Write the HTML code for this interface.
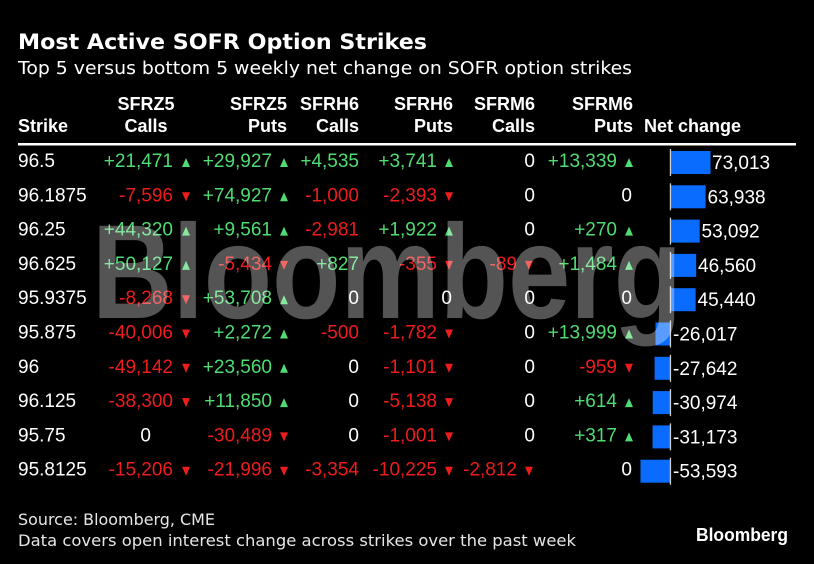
<!DOCTYPE html>
<html><head><meta charset="utf-8"><style>
html,body{margin:0;padding:0;background:#000;width:814px;height:564px;overflow:hidden}
svg{display:block}
.t{font-family:"Liberation Sans",sans-serif;font-size:19px}
.h{font-family:"Liberation Sans",sans-serif;font-size:18px;font-weight:bold;fill:#fff}
.w{fill:#fff}.g{fill:#4fdc72}.r{fill:#ee1c1c}
</style></head><body>
<svg width="814" height="564" viewBox="0 0 814 564" xmlns="http://www.w3.org/2000/svg">
<rect width="814" height="564" fill="#000"/>
<text x="18" y="49" font-family="DejaVu Sans,sans-serif" font-weight="bold" font-size="21" fill="#fff" textLength="409" lengthAdjust="spacingAndGlyphs">Most Active SOFR Option Strikes</text>
<text x="18" y="74" font-family="DejaVu Sans,sans-serif" font-size="18" fill="#fff" textLength="614" lengthAdjust="spacingAndGlyphs">Top 5 versus bottom 5 weekly net change on SOFR option strikes</text>

<g class="h">
<text x="146" y="110" text-anchor="middle">SFRZ5</text>
<text x="146" y="132" text-anchor="middle">Calls</text>
<text x="287" y="110" text-anchor="end">SFRZ5</text>
<text x="287" y="132" text-anchor="end">Puts</text>
<text x="359" y="110" text-anchor="end">SFRH6</text>
<text x="359" y="132" text-anchor="end">Calls</text>
<text x="453" y="110" text-anchor="end">SFRH6</text>
<text x="453" y="132" text-anchor="end">Puts</text>
<text x="535" y="110" text-anchor="end">SFRM6</text>
<text x="535" y="132" text-anchor="end">Calls</text>
<text x="633" y="110" text-anchor="end">SFRM6</text>
<text x="633" y="132" text-anchor="end">Puts</text>
<text x="18" y="132">Strike</text>
<text x="644" y="132">Net change</text>
</g>
<rect x="18" y="143" width="778" height="2.5" fill="#fff"/>

<g class="t">
<!-- strikes -->
<g class="w">
<text x="18" y="167">96.5</text>
<text x="18" y="201.3">96.1875</text>
<text x="18" y="235.6">96.25</text>
<text x="18" y="269.9">96.625</text>
<text x="18" y="304.2">95.9375</text>
<text x="18" y="338.5">95.875</text>
<text x="18" y="372.8">96</text>
<text x="18" y="407.1">96.125</text>
<text x="18" y="441.4">95.75</text>
<text x="18" y="475.7">95.8125</text>
</g>
<g text-anchor="end">
<!-- row1 -->
<text class="g" x="173" y="167">+21,471</text>
<text class="g" x="272" y="167">+29,927</text>
<text class="g" x="359" y="167">+4,535</text>
<text class="g" x="437" y="167">+3,741</text>
<text class="w" x="535" y="167">0</text>
<text class="g" x="617" y="167">+13,339</text>
<!-- row2 -->
<text class="r" x="173" y="201.3">-7,596</text>
<text class="g" x="272" y="201.3">+74,927</text>
<text class="r" x="359" y="201.3">-1,000</text>
<text class="r" x="437" y="201.3">-2,393</text>
<text class="w" x="535" y="201.3">0</text>
<text class="w" x="632" y="201.3">0</text>
<!-- row3 -->
<text class="g" x="173" y="235.6">+44,320</text>
<text class="g" x="272" y="235.6">+9,561</text>
<text class="r" x="359" y="235.6">-2,981</text>
<text class="g" x="437" y="235.6">+1,922</text>
<text class="w" x="535" y="235.6">0</text>
<text class="g" x="617" y="235.6">+270</text>
<!-- row4 -->
<text class="g" x="173" y="269.9">+50,127</text>
<text class="r" x="272" y="269.9">-5,434</text>
<text class="g" x="359" y="269.9">+827</text>
<text class="r" x="437" y="269.9">-355</text>
<text class="r" x="517" y="269.9">-89</text>
<text class="g" x="617" y="269.9">+1,484</text>
<!-- row5 -->
<text class="r" x="173" y="304.2">-8,268</text>
<text class="g" x="272" y="304.2">+53,708</text>
<text class="w" x="359" y="304.2">0</text>
<text class="w" x="452" y="304.2">0</text>
<text class="w" x="535" y="304.2">0</text>
<text class="w" x="632" y="304.2">0</text>
<!-- row6 -->
<text class="r" x="173" y="338.5">-40,006</text>
<text class="g" x="272" y="338.5">+2,272</text>
<text class="r" x="359" y="338.5">-500</text>
<text class="r" x="437" y="338.5">-1,782</text>
<text class="w" x="535" y="338.5">0</text>
<text class="g" x="617" y="338.5">+13,999</text>
<!-- row7 -->
<text class="r" x="173" y="372.8">-49,142</text>
<text class="g" x="272" y="372.8">+23,560</text>
<text class="w" x="359" y="372.8">0</text>
<text class="r" x="437" y="372.8">-1,101</text>
<text class="w" x="535" y="372.8">0</text>
<text class="r" x="617" y="372.8">-959</text>
<!-- row8 -->
<text class="r" x="173" y="407.1">-38,300</text>
<text class="g" x="272" y="407.1">+11,850</text>
<text class="w" x="359" y="407.1">0</text>
<text class="r" x="437" y="407.1">-5,138</text>
<text class="w" x="535" y="407.1">0</text>
<text class="g" x="617" y="407.1">+614</text>
<!-- row9 -->
<text class="w" x="151" y="441.4">0</text>
<text class="r" x="272" y="441.4">-30,489</text>
<text class="w" x="359" y="441.4">0</text>
<text class="r" x="437" y="441.4">-1,001</text>
<text class="w" x="535" y="441.4">0</text>
<text class="g" x="617" y="441.4">+317</text>
<!-- row10 -->
<text class="r" x="173" y="475.7">-15,206</text>
<text class="r" x="272" y="475.7">-21,996</text>
<text class="r" x="359" y="475.7">-3,354</text>
<text class="r" x="437" y="475.7">-10,225</text>
<text class="r" x="517" y="475.7">-2,812</text>
<text class="w" x="632" y="475.7">0</text>
</g>
</g>

<!-- triangles: up (e-8,b)(e,b)(e-4,b-9); down (e-8,b-9)(e,b-9)(e-4,b) -->
<g class="g">
<polygon points="182,167 190,167 186,158"/>
<polygon points="280,167 288,167 284,158"/>
<polygon points="445,167 453,167 449,158"/>
<polygon points="625,167 633,167 629,158"/>
<polygon points="280,201.3 288,201.3 284,192.3"/>
<polygon points="182,235.6 190,235.6 186,226.6"/>
<polygon points="280,235.6 288,235.6 284,226.6"/>
<polygon points="445,235.6 453,235.6 449,226.6"/>
<polygon points="625,235.6 633,235.6 629,226.6"/>
<polygon points="182,269.9 190,269.9 186,260.9"/>
<polygon points="625,269.9 633,269.9 629,260.9"/>
<polygon points="280,304.2 288,304.2 284,295.2"/>
<polygon points="280,338.5 288,338.5 284,329.5"/>
<polygon points="625,338.5 633,338.5 629,329.5"/>
<polygon points="280,372.8 288,372.8 284,363.8"/>
<polygon points="280,407.1 288,407.1 284,398.1"/>
<polygon points="625,407.1 633,407.1 629,398.1"/>
<polygon points="625,441.4 633,441.4 629,432.4"/>
</g>
<g class="r">
<polygon points="182,192.3 190,192.3 186,201.3"/>
<polygon points="445,192.3 453,192.3 449,201.3"/>
<polygon points="280,260.9 288,260.9 284,269.9"/>
<polygon points="445,260.9 453,260.9 449,269.9"/>
<polygon points="525,260.9 533,260.9 529,269.9"/>
<polygon points="182,295.2 190,295.2 186,304.2"/>
<polygon points="182,329.5 190,329.5 186,338.5"/>
<polygon points="445,329.5 453,329.5 449,338.5"/>
<polygon points="182,363.8 190,363.8 186,372.8"/>
<polygon points="445,363.8 453,363.8 449,372.8"/>
<polygon points="625,363.8 633,363.8 629,372.8"/>
<polygon points="182,398.1 190,398.1 186,407.1"/>
<polygon points="445,398.1 453,398.1 449,407.1"/>
<polygon points="280,432.4 288,432.4 284,441.4"/>
<polygon points="445,432.4 453,432.4 449,441.4"/>
<polygon points="182,466.7 190,466.7 186,475.7"/>
<polygon points="280,466.7 288,466.7 284,475.7"/>
<polygon points="445,466.7 453,466.7 449,475.7"/>
<polygon points="525,466.7 533,466.7 529,475.7"/>
</g>

<!-- bars -->
<g fill="#0a6cff">
<rect x="671" y="151" width="39.5" height="23"/>
<rect x="671" y="185.3" width="34.6" height="23"/>
<rect x="671" y="219.6" width="28.7" height="23"/>
<rect x="671" y="253.9" width="25.2" height="23"/>
<rect x="671" y="288.2" width="24.6" height="23"/>
<rect x="655.5" y="322.5" width="14.5" height="23"/>
<rect x="654.6" y="356.8" width="15.4" height="23"/>
<rect x="652.7" y="391.1" width="17.3" height="23"/>
<rect x="652.6" y="425.4" width="17.4" height="23"/>
<rect x="640.5" y="459.7" width="29.5" height="23"/>
</g>
<g fill="#cfcfcf">
<rect x="669.8" y="149" width="1.3" height="27"/>
<rect x="669.8" y="183.3" width="1.3" height="27"/>
<rect x="669.8" y="217.6" width="1.3" height="27"/>
<rect x="669.8" y="251.9" width="1.3" height="27"/>
<rect x="669.8" y="286.2" width="1.3" height="27"/>
<rect x="669.8" y="320.5" width="1.3" height="27"/>
<rect x="669.8" y="354.8" width="1.3" height="27"/>
<rect x="669.8" y="389.1" width="1.3" height="27"/>
<rect x="669.8" y="423.4" width="1.3" height="27"/>
<rect x="669.8" y="457.7" width="1.3" height="27"/>
</g>
<g class="t w">
<text x="712" y="169">73,013</text>
<text x="707.5" y="203.3">63,938</text>
<text x="701.5" y="237.6">53,092</text>
<text x="698" y="271.9">46,560</text>
<text x="697.5" y="306.2">45,440</text>
<text x="673" y="340.5">-26,017</text>
<text x="673" y="374.8">-27,642</text>
<text x="673" y="409.1">-30,974</text>
<text x="673" y="443.4">-31,173</text>
<text x="673" y="477.7">-53,593</text>
</g>

<!-- watermark -->
<text x="92" y="318" font-family="Liberation Sans,sans-serif" font-weight="bold" font-size="134" fill="#fff" fill-opacity="0.33" textLength="590" lengthAdjust="spacingAndGlyphs">Bloomberg</text>

<!-- footer -->
<text x="18" y="525" font-family="DejaVu Sans,sans-serif" font-size="16" fill="#e6e6e6" textLength="197" lengthAdjust="spacingAndGlyphs">Source: Bloomberg, CME</text>
<text x="18" y="546" font-family="DejaVu Sans,sans-serif" font-size="16" fill="#e6e6e6" textLength="558" lengthAdjust="spacingAndGlyphs">Data covers open interest change across strikes over the past week</text>
<text x="696" y="541" font-family="Liberation Sans,sans-serif" font-weight="bold" font-size="18" fill="#fff" textLength="92" lengthAdjust="spacingAndGlyphs">Bloomberg</text>
</svg>
</body></html>
